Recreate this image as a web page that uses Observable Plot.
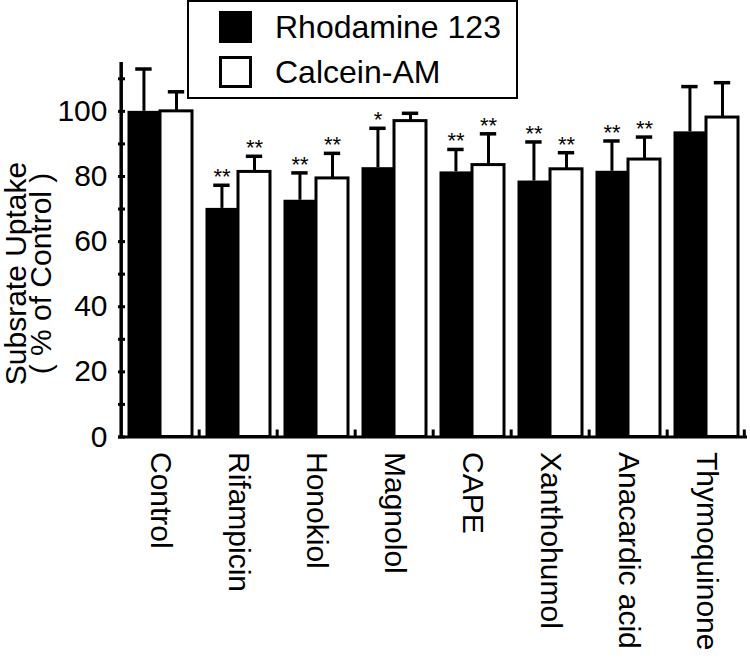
<!DOCTYPE html>
<html><head><meta charset="utf-8">
<script src="https://cdn.jsdelivr.net/npm/d3@7"></script>
<script src="https://cdn.jsdelivr.net/npm/@observablehq/plot@0.6"></script>
<style>
body{margin:0;background:#fff;}
#wrap{position:relative;width:750px;height:671px;font-family:"Liberation Sans",Arial,Helvetica,sans-serif;}
#legend{position:absolute;left:187px;top:0;width:331px;height:99px;border:2px solid #000;box-sizing:border-box;background:#fff;}
.sw{position:absolute;left:30px;width:33px;height:32px;box-sizing:border-box;}
.lt{position:absolute;left:86px;font-size:32px;line-height:32px;color:#000;white-space:nowrap;}
</style></head>
<body><div id="wrap"></div>
<script>
const groups = ["Control","Rifampicin","Honokiol","Magnolol","CAPE","Xanthohumol","Anacardic acid","Thymoquinone"];
const seriesNames = ["Rhodamine 123","Calcein-AM"];
const rhodamine   = [100, 70.2, 72.7, 82.7, 81.4, 78.6, 81.6, 93.7];
const rhodamineSD = [13, 7.1, 8.4, 12.1, 6.9, 12.0, 9.3, 13.9];
const rhodamineSig = ["", "**", "**", "*", "**", "**", "**", ""];
const calcein     = [100, 81.4, 79.4, 97.0, 83.5, 82.2, 85.2, 98.1];
const calceinSD   = [6, 4.8, 7.7, 2.4, 9.6, 5.1, 6.9, 10.7];
const calceinSig  = ["", "**", "**", "", "**", "**", "**", ""];
const yTickLabels = [0, 20, 40, 60, 80, 100];
const yTickMarks  = [0, 10, 20, 30, 40, 50, 60, 70, 80, 90, 100, 110];
const yTitle = "Subsrate Uptake\n( % of Control )";

const rows = (vals, sds, sig, name) => groups.map((g, i) => ({group: g, series: name, value: vals[i], upper: vals[i] + sds[i], sig: sig[i]}));
const rRows = rows(rhodamine, rhodamineSD, rhodamineSig, seriesNames[0]);
const cRows = rows(calcein, calceinSD, calceinSig, seriesNames[1]);

const W = 750, H = 671, mL = 118, mR = 3, mT = 62, mB = 234.5;
const frameW = W - mL - mR;
const step = frameW / groups.length;
const frameH = H - mT - mB;
const bL = 6.5, bM = 39, bR = 7;
const dxR = (bL + bM) / 2 - step / 2;
const dxC = (bM + step - bR) / 2 - step / 2;
const capIn = step / 2 - 8.5;

const chart = Plot.plot({
  width: W, height: H,
  marginLeft: mL, marginRight: mR, marginTop: mT, marginBottom: mB,
  style: {fontFamily: '"Liberation Sans", Arial, Helvetica, sans-serif', fontSize: "30px", color: "#000", background: "#fff"},
  x: {domain: groups, padding: 0, axis: null},
  y: {domain: [0, 115], label: null},
  marks: [
    Plot.barY(cRows, {x: "group", y: "value", fill: "#fff", stroke: "#000", strokeWidth: 3, insetLeft: bM, insetRight: bR}),
    Plot.barY(rRows, {x: "group", y: "value", fill: "#000", insetLeft: bL, insetRight: step - bM}),
    Plot.ruleX(rRows, {x: "group", y1: "value", y2: "upper", dx: dxR, strokeWidth: 3}),
    Plot.ruleX(cRows, {x: "group", y1: "value", y2: "upper", dx: dxC, strokeWidth: 3}),
    Plot.tickY(rRows, {x: "group", y: "upper", dx: dxR, insetLeft: capIn, insetRight: capIn, strokeWidth: 3.5}),
    Plot.tickY(cRows, {x: "group", y: "upper", dx: dxC, insetLeft: capIn, insetRight: capIn, strokeWidth: 3.5}),
    Plot.text(rRows.filter(d => d.sig), {x: "group", y: "upper", text: "sig", dx: dxR, dy: -8, fontSize: 22}),
    Plot.text(cRows.filter(d => d.sig), {x: "group", y: "upper", text: "sig", dx: dxC, dy: -8, fontSize: 22}),
    Plot.ruleY([0], {strokeWidth: 3}),
    Plot.ruleX(groups.slice(0, 1), {x: d => d, dx: -step / 2, strokeWidth: 3.5}),
    Plot.ruleX(groups.slice(1), {x: d => d, dx: -step / 2, insetTop: frameH - 7, strokeWidth: 3}),
    Plot.ruleX(groups.slice(-1), {x: d => d, dx: step / 2 - 1.5, insetTop: frameH - 7, strokeWidth: 3}),
    Plot.ruleY(yTickMarks, {y: d => d, insetRight: frameW - 7, strokeWidth: 3}),
    Plot.axisY({ticks: yTickLabels, tickSize: 0, tickPadding: 11, label: null, fontSize: 30}),
    Plot.text(groups, {x: d => d, frameAnchor: "bottom", rotate: 90, textAnchor: "start", lineAnchor: "middle", dy: 15, fontSize: 30}),
    Plot.text([yTitle], {frameAnchor: "left", rotate: -90, textAnchor: "middle", lineAnchor: "middle", dx: -88, dy: 23.75, fontSize: 30, lineHeight: 0.82})
  ]
});

const wrap = document.getElementById("wrap");
wrap.appendChild(chart);
const legend = document.createElement("div");
legend.id = "legend";
const fills = ["#000", "#fff"];
const tops = [11, 56];
seriesNames.forEach((name, i) => {
  const sw = document.createElement("div");
  sw.className = "sw";
  sw.style.top = (tops[i] - 2) + "px";
  sw.style.background = fills[i];
  sw.style.border = "3px solid #000";
  legend.appendChild(sw);
  const t = document.createElement("div");
  t.className = "lt";
  t.style.top = (tops[i] - 2) + "px";
  t.textContent = name;
  legend.appendChild(t);
});
wrap.appendChild(legend);
</script>
</body></html>
